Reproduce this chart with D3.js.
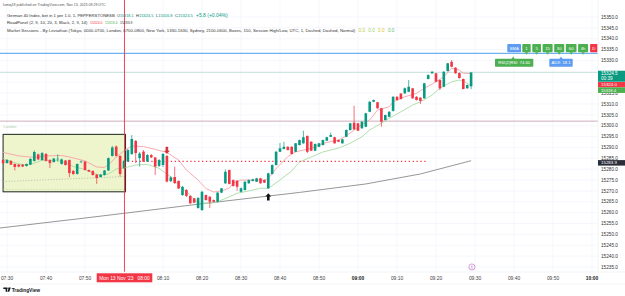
<!DOCTYPE html>
<html><head><meta charset="utf-8">
<script src="https://cdn.jsdelivr.net/npm/d3@7"></script>
<style>
html,body{margin:0;padding:0;background:#fff;overflow:hidden;}
svg{display:block;}
text{font-family:"Liberation Sans",Arial,sans-serif;}
</style></head><body>
<svg id="c" width="625" height="296"></svg>
<script>
// ---------- DATA ----------
const candleStart = "07:29", candleEnd = "09:29";
const opens = [
15284.2,15282.8,15283.8,15282.4,15282.1,15282.1,15281.5,15282.1,15283.8,15286.8,
15284.2,15287.0,15284.2,15283.3,15284.7,15282.4,15284.0,15284.2,15279.2,15277.8,
15283.3,15283.5,15279.6,15279.2,15277.5,15276.4,15277.3,15279.4,15286.1,15290.4,
15286.1,15280.5,15283.5,15287.0,15293.0,15285.1,15288.1,15283.5,15286.5,15285.4,
15281.5,15281.9,15286.1,15274.5,15276.4,15274.6,15268.1,15270.4,15267.7,15266.6,
15262.1,15261.2,15268.1,15267.3,15265.8,15265.0,15269.2,15273.5,15279.6,15275.0,
15274.7,15269.6,15270.4,15273.5,15274.6,15274.2,15275.8,15275.0,15271.2,15277.8,
15281.9,15288.0,15289.3,15290.3,15290.3,15288.0,15291.1,15291.9,15295.3,15292.6,
15288.5,15290.3,15291.1,15293.1,15294.9,15294.7,15293.4,15291.9,15294.9,15298.0,
15301.4,15301.1,15298.8,15299.5,15306.4,15311.0,15310.8,15308.0,15302.6,15304.1,
15306.8,15313.3,15314.8,15314.9,15315.6,15317.2,15313.3,15312.9,15312.6,15321.5,
15324.1,15324.1,15321.0,15317.9,15325.2,15329.4,15326.7,15324.2,15321.5,15317.2,
15318.1];
const highs = [
15284.9,15284.7,15284.2,15282.6,15282.4,15282.4,15282.6,15285.1,15288.6,15287.2,
15287.9,15287.4,15284.5,15285.1,15286.8,15284.9,15284.2,15284.5,15279.6,15282.6,
15284.0,15283.8,15279.9,15279.4,15277.8,15277.8,15279.6,15285.4,15290.7,15290.9,
15286.3,15284.2,15289.3,15295.7,15293.4,15287.9,15288.8,15287.0,15287.0,15285.6,
15284.7,15287.4,15286.5,15276.8,15281.2,15274.8,15272.3,15270.9,15267.9,15266.7,
15267.2,15270.0,15268.3,15267.7,15266.1,15269.5,15271.3,15279.8,15279.8,15275.3,
15275.0,15271.6,15274.6,15275.3,15275.6,15276.0,15276.0,15275.3,15278.3,15282.2,
15288.4,15292.0,15292.6,15290.6,15290.6,15292.0,15293.6,15297.7,15295.5,15292.9,
15291.8,15292.1,15293.6,15294.9,15296.8,15294.9,15293.6,15294.0,15298.3,15301.3,
15309.2,15301.3,15302.1,15305.9,15311.3,15312.0,15311.0,15308.2,15305.1,15306.7,
15313.6,15313.6,15315.0,15317.6,15321.0,15317.4,15313.6,15313.1,15319.7,15323.6,
15325.1,15324.3,15321.2,15325.1,15328.9,15330.2,15326.9,15324.5,15321.7,15319.0,
15324.5];
const lows = [
15282.4,15282.6,15281.9,15279.4,15280.8,15281.0,15281.2,15281.9,15283.5,15284.2,
15284.0,15283.5,15280.5,15283.0,15283.5,15282.1,15281.7,15276.3,15277.3,15277.5,
15282.8,15279.4,15278.7,15277.1,15273.2,15276.2,15277.1,15279.2,15285.8,15285.8,
15276.6,15280.1,15283.3,15286.5,15282.8,15281.2,15283.3,15283.3,15285.1,15277.3,
15281.0,15281.0,15273.9,15274.1,15273.2,15270.9,15267.7,15267.2,15264.0,15264.4,
15261.9,15260.8,15265.6,15262.1,15264.7,15264.7,15269.0,15273.2,15273.0,15272.0,
15270.0,15269.3,15270.2,15273.3,15274.3,15274.1,15273.3,15273.6,15270.9,15277.5,
15281.7,15287.9,15289.1,15288.6,15286.8,15287.8,15290.9,15291.7,15287.4,15288.3,
15288.3,15290.1,15290.9,15292.9,15294.7,15291.7,15292.4,15291.7,15294.7,15297.8,
15298.1,15297.5,15298.6,15299.3,15306.2,15310.8,15307.8,15299.5,15302.4,15303.9,
15306.5,15311.6,15312.0,15314.6,15315.4,15312.4,15311.6,15310.0,15312.4,15321.3,
15323.9,15320.0,15316.4,15317.7,15324.9,15326.9,15323.9,15321.7,15316.7,15317.0,
15316.8];
const closes = [
15282.8,15284.2,15282.1,15281.0,15281.2,15281.2,15282.4,15284.7,15287.9,15284.5,
15287.4,15283.8,15282.8,15284.9,15284.8,15284.5,15281.9,15278.2,15277.8,15282.4,
15283.5,15279.6,15278.9,15277.3,15275.9,15277.5,15279.4,15285.1,15290.0,15286.1,
15277.8,15283.8,15288.8,15293.9,15287.4,15287.2,15283.5,15286.5,15285.4,15281.2,
15284.2,15287.0,15274.3,15276.2,15273.6,15271.1,15271.9,15267.7,15264.3,15264.6,
15266.7,15269.6,15265.8,15265.0,15265.0,15269.2,15271.2,15278.8,15273.2,15272.3,
15271.9,15271.2,15274.2,15275.0,15275.3,15275.8,15273.5,15273.8,15278.1,15281.9,
15288.0,15289.6,15290.3,15288.8,15287.0,15291.9,15293.4,15294.7,15288.0,15288.5,
15291.6,15291.9,15293.4,15294.7,15295.7,15291.9,15292.6,15293.7,15298.0,15301.1,
15298.3,15297.7,15301.8,15305.7,15311.0,15311.8,15308.0,15301.8,15304.9,15306.4,
15313.3,15311.8,15312.3,15317.2,15317.9,15312.6,15311.8,15311.4,15319.5,15323.3,
15324.8,15320.2,15317.2,15324.8,15328.7,15327.1,15324.1,15321.9,15316.9,15318.7,
15324.5];

// RoadPanel upper (red) and lower (green) lines
const upperLine = [["07:29",15287.7],["07:33",15286.1],["07:37",15285.4],["07:40",15286.1],["07:44",15286.3],["07:46",15285.6],["07:50",15283.8],["07:53",15281.0],["07:55",15280.8],["07:56",15281.9],["07:58",15285.6],["08:00",15288.4],["08:02",15290.7],["08:05",15290.4],["08:08",15289.1],["08:11",15287.7],["08:14",15284.2],["08:16",15279.6],["08:19",15275.0],["08:21",15271.1],["08:23",15269.5],["08:25",15270.0],["08:27",15271.3],["08:28",15273.6],["08:30",15275.0],["08:36",15275.0],["08:37",15275.7],["08:39",15280.3],["08:42",15285.8],["08:44",15288.0],["08:48",15289.6],["08:51",15291.9],["08:55",15293.4],["08:57",15295.3],["08:59",15298.0],["09:01",15300.5],["09:03",15302.6],["09:05",15307.2],["09:08",15308.7],["09:09",15311.0],["09:12",15313.3],["09:15",15314.9],["09:17",15317.2],["09:20",15320.2],["09:22",15322.5],["09:24",15326.4],["09:26",15325.6],["09:27",15324.1],["09:29",15324.0]];
const lowerLine = [["07:29",15284.9],["07:30",15284.1],["07:33",15282.4],["07:35",15281.8],["07:37",15282.8],["07:39",15284.1],["07:42",15284.1],["07:44",15283.6],["07:47",15281.3],["07:50",15279.8],["07:52",15278.2],["07:54",15277.1],["07:56",15277.8],["07:58",15280.1],["08:00",15280.5],["08:03",15281.9],["08:06",15282.2],["08:09",15280.4],["08:12",15276.5],["08:14",15272.7],["08:17",15268.1],["08:19",15264.3],["08:22",15264.3],["08:24",15265.0],["08:27",15267.3],["08:29",15268.9],["08:32",15270.0],["08:35",15271.2],["08:37",15271.2],["08:40",15275.0],["08:43",15279.2],["08:45",15283.3],["08:48",15285.6],["08:51",15287.9],["08:55",15289.7],["08:58",15291.9],["09:01",15294.9],["09:03",15298.0],["09:06",15301.1],["09:08",15303.4],["09:11",15306.4],["09:14",15309.5],["09:16",15311.0],["09:19",15314.1],["09:21",15317.2],["09:24",15320.2],["09:26",15321.0],["09:27",15320.6],["09:29",15318.4]];
const slowLine = [["07:28",15252.9],["07:48",15257.1],["08:00",15259.7],["08:20",15264.1],["08:32",15266.6],["08:45",15269.3],["09:02",15273.2],["09:16",15277.8],["09:29",15283.9]];

const lastPrice = 15324.5, upperLast = 15324.0, lowerLast = 15318.4, slowLast = 15283.9;
const blueLevel = 15333.3;
const sessionLevel = 15302.1;
const roadLevel = {from:"08:01", to:"09:18", price:15283.6};
const sessionBox = {start:"07:29", end:"08:00", high:15296.0, low:15269.6, midFrom:15274.3, midTo:15276.6, lowDash:15270.7};
const sellSignal = ["08:11", 15287.0];
const buySignal = ["08:37", 15268.9];
const crossTime = "08:00";

const priceTicks = d3.range(15235, 15351, 5);
const hiddenPriceTicks = [15320, 15325];      // covered by the last-value labels
const timeTickStart = "07:30", timeTickEnd = "10:00";
const tagsRow1 = [["SMA","#5d9cf2"],["1","#4caf50"],["5","#4caf50"],["15","#4caf50"],["30","#4caf50"],["60","#4caf50"],["4h","#4caf50"],["D","#f23645"]];
const tagsRow2 = [["RSI(2)RSI: 74.60","#4caf50"],["ADX: 18.1","#5d9cf2"]];
const sessionValues = [["0.0","#c0ca33"],["0.0","#9ccc65"],["0.0","#d4c72a"],["0.0","#66bb6a"]];

// ---------- CHART ----------
const svg = d3.select("#c");
const parse = d3.timeParse("%H:%M");
const x = d3.scaleTime().domain([parse("07:30"), parse("10:00")]).range([7, 592]);
const y = d3.scaleLinear().domain([15235, 15350]).range([267, 17]);
const X = t => x(parse(t));
const UP = "#089981", DN = "#f23645";
const plotR = 598, plotB = 272;
const f1 = d3.format(".1f");

svg.append("rect").attr("width",625).attr("height",296).attr("fill","#fff");
svg.append("defs").append("clipPath").attr("id","pc").append("rect").attr("x",0).attr("y",0).attr("width",plotR).attr("height",plotB);
const g = svg.append("g").attr("clip-path","url(#pc)");

// grid
const timeTicks = d3.timeMinute.every(10).range(parse(timeTickStart), d3.timeMinute.offset(parse(timeTickEnd),1));
g.selectAll(".vg").data(timeTicks).join("line")
  .attr("x1",d=>x(d)).attr("x2",d=>x(d)).attr("y1",0).attr("y2",plotB)
  .attr("stroke","#f0f3fa").attr("stroke-width",0.7);
g.selectAll(".hg").data(priceTicks).join("line")
  .attr("x1",0).attr("x2",plotR).attr("y1",d=>y(d)).attr("y2",d=>y(d))
  .attr("stroke","#f0f3fa").attr("stroke-width",0.7);

// session box
const bx0 = X(sessionBox.start), bx1 = X(sessionBox.end) + 1.5;
g.append("rect").attr("x",bx0).attr("y",y(sessionBox.high)).attr("width",bx1-bx0)
  .attr("height",y(sessionBox.low)-y(sessionBox.high)).attr("fill","#eef4cc").attr("stroke","#2e3a2e").attr("stroke-width",1.1);
g.append("line").attr("x1",bx0).attr("x2",bx1).attr("y1",y(sessionBox.midFrom)).attr("y2",y(sessionBox.midTo))
  .attr("stroke","#9aa79a").attr("stroke-width",0.6).attr("stroke-dasharray","1.2 1.6");
g.append("line").attr("x1",bx0).attr("x2",bx1).attr("y1",y(sessionBox.lowDash)).attr("y2",y(sessionBox.lowDash))
  .attr("stroke","#b5d9a0").attr("stroke-width",0.6).attr("stroke-dasharray","1.5 1.5");
g.append("text").attr("x",3.5).attr("y",y(sessionLevel)+7.3).attr("font-size",3.9).attr("fill","#a8cfa8").text("London");

// horizontal levels
g.append("line").attr("x1",0).attr("x2",plotR).attr("y1",y(blueLevel)).attr("y2",y(blueLevel)).attr("stroke","#4a9ff0").attr("stroke-width",1);
g.append("line").attr("x1",0).attr("x2",plotR).attr("y1",y(sessionLevel)).attr("y2",y(sessionLevel)).attr("stroke","#c9a3b3").attr("stroke-width",0.9);
g.append("line").attr("x1",0).attr("x2",plotR).attr("y1",y(lastPrice)).attr("y2",y(lastPrice)).attr("stroke","#bcdcd6").attr("stroke-width",0.8);

// lines
const lineGen = d3.line().x(d=>X(d[0])).y(d=>y(d[1]));
g.append("path").attr("d",lineGen(slowLine)).attr("fill","none").attr("stroke","#8a8a8a").attr("stroke-width",0.9);
g.append("path").attr("d",lineGen(upperLine)).attr("fill","none").attr("stroke","#f6a3a6").attr("stroke-width",0.9);
g.append("path").attr("d",lineGen(lowerLine)).attr("fill","none").attr("stroke","#a9dba5").attr("stroke-width",0.9);

// red dotted level
g.append("line").attr("x1",X(roadLevel.from)).attr("x2",X(roadLevel.to)).attr("y1",y(roadLevel.price)).attr("y2",y(roadLevel.price))
  .attr("stroke",DN).attr("stroke-width",1.3).attr("stroke-dasharray","1.3 2.6");

// candles
const times = d3.timeMinute.range(parse(candleStart), d3.timeMinute.offset(parse(candleEnd),1));
const candles = times.map((t,i)=>({t,o:opens[i],h:highs[i],l:lows[i],c:closes[i]}));
const cg = g.append("g");
cg.selectAll("line").data(candles).join("line")
  .attr("x1",d=>x(d.t)).attr("x2",d=>x(d.t)).attr("y1",d=>y(d.h)).attr("y2",d=>y(d.l))
  .attr("stroke",d=>d.c>=d.o?UP:DN).attr("stroke-width",0.7);
cg.selectAll("rect").data(candles).join("rect")
  .attr("x",d=>x(d.t)-1.3).attr("width",2.6)
  .attr("y",d=>y(Math.max(d.o,d.c)))
  .attr("height",d=>Math.max(0.6, Math.abs(y(d.o)-y(d.c))))
  .attr("fill",d=>d.c>=d.o?UP:DN);

// signals
function arrow(cx, tipY, dir, color){
  const head=3.3, stem=3.8, hw=2.9, sw=1.3;
  const b = tipY - dir*head, s = b - dir*stem;
  const p = [[cx,tipY],[cx+hw,b],[cx+sw,b],[cx+sw,s],[cx-sw,s],[cx-sw,b],[cx-hw,b]];
  g.append("path").attr("d","M"+p.map(q=>q.join(",")).join("L")+"Z").attr("fill",color);
}
arrow(X(sellSignal[0]), y(sellSignal[1]), 1, "#d8333d");
arrow(X(buySignal[0]), y(buySignal[1]), -1, "#111");

// crosshair
svg.append("line").attr("x1",X(crossTime)+0.5).attr("x2",X(crossTime)+0.5).attr("y1",0).attr("y2",plotB)
  .attr("stroke",DN).attr("stroke-width",0.9);

// event marker
const ex = X(candleEnd)+0.8;
svg.append("circle").attr("cx",ex).attr("cy",267).attr("r",3.1).attr("fill","#fff").attr("stroke","#c37bd0").attr("stroke-width",0.7);
svg.append("circle").attr("cx",ex).attr("cy",266.2).attr("r",0.8).attr("fill","#c37bd0");
svg.append("path").attr("d",`M${ex-1.4},268.8 Q${ex},266.9 ${ex+1.4},268.8`).attr("fill","none").attr("stroke","#c37bd0").attr("stroke-width",0.6);

// helper: text fitted to a width by font size (no glyph stretching)
function fitText(sel, x0, x1, yb, maxSize, parts, anchor){
  const t = sel.append("text").attr("x",anchor==="middle"?(x0+x1)/2:x0).attr("y",yb).attr("font-size",maxSize).attr("fill","#333");
  if(anchor) t.attr("text-anchor",anchor);
  parts.forEach(p=>t.append("tspan").attr("fill",p[1]).text(p[0]));
  const w = t.node().getComputedTextLength();
  if(w > (x1-x0)) t.attr("font-size", maxSize*(x1-x0)/w);
  return t;
}

// tags on blue level
const tagW1 = [13.7,8.4,8.7,10,10,10.7,10,7.4];
let tx = X("09:38")+1.1;
const ty = y(blueLevel);
tagsRow1.forEach((t,i)=>{
  const w = tagW1[i];
  svg.append("rect").attr("x",tx).attr("y",ty-9.3).attr("width",w).attr("height",8.3).attr("rx",0.8).attr("fill",t[1]);
  if(i>0 && i<7) svg.append("path").attr("d",`M${tx+w/2-1.6},${ty-1.1}L${tx+w/2+1.6},${ty-1.1}L${tx+w/2},${ty+1.4}Z`).attr("fill",t[1]);
  fitText(svg, tx+0.8, tx+w-0.8, ty-3.6, 4.3, [[t[0],"#fff"]], "middle");
  tx += w + (i===0?1.3:(i===6?2:1.6));
});
const row2 = [[X("09:38")-11.2,38.3,18.2],[X("09:38")+43.1,23.4,11.7]];
tagsRow2.forEach((t,i)=>{
  const [x0,w,pt] = row2[i];
  svg.append("path").attr("d",`M${x0+pt-1.6},${ty+5.6}L${x0+pt+1.6},${ty+5.6}L${x0+pt},${ty+3.1}Z`).attr("fill",t[1]);
  svg.append("rect").attr("x",x0).attr("y",ty+5.4).attr("width",w).attr("height",8).attr("rx",0.8).attr("fill",t[1]);
  fitText(svg, x0+1.5, x0+w-1.5, ty+10.9, 4.2, [[t[0],"#fff"]], "middle");
});

// price axis
svg.append("line").attr("x1",plotR).attr("x2",plotR).attr("y1",0).attr("y2",plotB).attr("stroke","#eceef2").attr("stroke-width",0.7);
svg.selectAll(".yl").data(priceTicks.filter(v=>!hiddenPriceTicks.includes(v))).join("text")
  .attr("x",601).attr("y",d=>y(d)+1.7).attr("font-size",4.7).attr("fill","#333")
  .text(d=>f1(d));

// price labels
function plabel(y0,h,color,lines,size){
  svg.append("rect").attr("x",plotR).attr("y",y0).attr("width",27).attr("height",h).attr("fill",color);
  lines.forEach((s,i)=>svg.append("text").attr("x",601).attr("y",y0+(lines.length>1?4.3+i*5:h/2+1.5)).attr("font-size",size||4.6).attr("fill","#fff").text(s));
}
const ly = y(lastPrice)-1.7;
plabel(ly,11,"#089981",[f1(lastPrice),"00:39"]);
plabel(ly+11.3,5.3,"#f23645",[f1(upperLast)],4.4);
plabel(ly+16.6,5.6,"#4caf50",[f1(lowerLast)],4.2);
plabel(y(slowLast)-0.6,5.5,"#2a2e39",[f1(slowLast)],4.4);

// time axis
svg.append("line").attr("x1",0).attr("x2",625).attr("y1",plotB).attr("y2",plotB).attr("stroke","#eceef2").attr("stroke-width",0.7);
svg.append("line").attr("x1",0).attr("x2",625).attr("y1",284).attr("y2",284).attr("stroke","#eceef2").attr("stroke-width",0.6);
const tf = d3.timeFormat("%H:%M");
svg.selectAll(".xl").data(timeTicks.filter(d=>tf(d)!==crossTime)).join("text")
  .attr("x",d=>x(d)).attr("y",280.4).attr("text-anchor","middle").attr("font-size",4.9)
  .attr("font-weight",d=>d.getMinutes()===0?"bold":"normal")
  .attr("fill",d=>d.getMinutes()===0?"#131722":"#444").text(d=>tf(d));
const cx = X(crossTime)+0.5;
svg.append("rect").attr("x",cx-27.8).attr("y",273.3).attr("width",55.6).attr("height",9).attr("fill","#f23645");
svg.append("text").attr("x",cx).attr("y",279.6).attr("text-anchor","middle").attr("font-size",4.9).attr("fill","#fff").attr("xml:space","preserve").text("Mon 13 Nov '23   08:00");

// header
const hdr = svg.append("g");
fitText(hdr,3,106,6.3,4.6,[["lumiq18 published on TradingView.com, Nov 13, 2023 09:29 UTC","#555"]]);
fitText(hdr,7,115,16.7,5,[["German 40 Index, bet in 1 per 1.0, 1, PEPPERSTONESB","#333"]]);
fitText(hdr,117,133.5,16.7,5,[["O","#333"],["15318.1","#089981"]]);
fitText(hdr,136,153.5,16.7,5,[["H","#333"],["15324.5","#089981"]]);
fitText(hdr,156,172.5,16.7,5,[["L","#333"],["15316.8","#089981"]]);
fitText(hdr,175,193,16.7,5,[["C","#333"],["15324.5","#089981"]]);
fitText(hdr,196,230,16.7,5,[["+5.8 (+0.04%)","#089981"]]);
fitText(hdr,7,87.5,24.4,5,[["RoadPanel (2, 9, 10, 20, 3, Black, 2, 9, 14)","#333"]]);
fitText(hdr,90,102.5,24.4,5,[[f1(upperLast),"#f23645"]]);
fitText(hdr,105,117.5,24.4,5,[[f1(lowerLast),"#4caf50"]]);
fitText(hdr,120,132.5,24.4,5,[[f1(slowLast),"#333"]]);
fitText(hdr,7,356,32.4,5,[["Market Sessions - By Leviathan (Tokyo, 0000-0700, London, 0700-0800, New York, 1330-1630, Sydney, 2100-0600, Boxes, 150, Session High/Low, UTC, 1, Dashed, Dashed, Normal)","#333"]]);
sessionValues.forEach((v,i)=>fitText(hdr,358.5+i*9.8, 365+i*9.8, 32.4, 5, [v]));

// logo
const lg = svg.append("g").attr("fill","#131722");
lg.append("path").attr("d","M3.3,287.4H7.2V291.8H5.6V289H3.3Z");
lg.append("circle").attr("cx",8.1).attr("cy",288.2).attr("r",0.8);
lg.append("path").attr("d","M9,287.4H10.8L9.2,291.8H7.4Z");
fitText(svg,11.7,38.3,291.7,5.6,[["TradingView","#131722"]]).attr("font-weight","bold");
</script>
</body></html>
